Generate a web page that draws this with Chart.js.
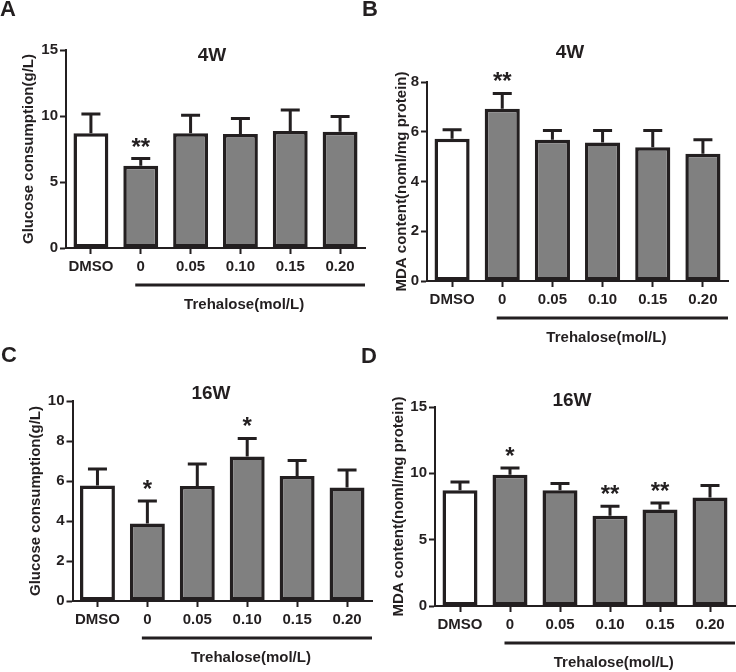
<!DOCTYPE html>
<html>
<head>
<meta charset="utf-8">
<script src="https://cdn.jsdelivr.net/npm/chart.js@4.4.1/dist/chart.umd.min.js"></script>
<style>
  body { margin: 0; background: #fff; }
  #wrap { position: relative; width: 736px; height: 672px; overflow: hidden; }
  #wrap canvas { position: absolute; left: 0; top: 0; }
  .letter { position: absolute; font: bold 22px "Liberation Sans", Arial, sans-serif; line-height: 22px; color: #231f20; }
</style>
</head>
<body>
<div id="wrap">
  <canvas id="chartA" width="736" height="672"></canvas>
  <canvas id="chartB" width="736" height="672"></canvas>
  <canvas id="chartC" width="736" height="672"></canvas>
  <canvas id="chartD" width="736" height="672"></canvas>
  <div class="letter" style="left:0px;top:-2px">A</div>
  <div class="letter" style="left:362px;top:-2px">B</div>
  <div class="letter" style="left:1px;top:344px">C</div>
  <div class="letter" style="left:361px;top:345px">D</div>
</div>
<script>
const categories = ["DMSO", "0", "0.05", "0.10", "0.15", "0.20"];
const barColors = ["#ffffff", "#808080", "#808080", "#808080", "#808080", "#808080"];

// A: glucose consumption, 4 weeks
const glucose4w = [8.70, 6.23, 8.70, 8.64, 8.86, 8.81];
const glucose4wErr = [1.46, 0.55, 1.36, 1.18, 1.59, 1.16];
const glucose4wStars = ["", "**", "", "", "", ""];
const glucose4wTicks = [0, 5, 10, 15];

// B: MDA content, 4 weeks
const mda4w = [5.72, 6.92, 5.68, 5.57, 5.38, 5.12];
const mda4wErr = [0.36, 0.62, 0.37, 0.48, 0.67, 0.56];
const mda4wStars = ["", "**", "", "", "", ""];
const mda4wTicks = [0, 2, 4, 6, 8];

// C: glucose consumption, 16 weeks
const glucose16w = [5.77, 3.88, 5.75, 7.22, 6.25, 5.68];
const glucose16wErr = [0.83, 1.12, 1.10, 0.91, 0.77, 0.87];
const glucose16wStars = ["", "*", "", "*", "", ""];
const glucose16wTicks = [0, 2, 4, 6, 8, 10];

// D: MDA content, 16 weeks
const mda16w = [8.73, 9.90, 8.73, 6.80, 7.27, 8.18];
const mda16wErr = [0.62, 0.50, 0.50, 0.72, 0.50, 0.90];
const mda16wStars = ["", "*", "", "**", "**", ""];
const mda16wTicks = [0, 5, 10, 15];

const ink = "#231f20";
const family = '"Liberation Sans", Arial, sans-serif';
const labelSize = 15;

// error bars, significance stars, panel title and the Trehalose bracket
const extras = {
  id: "extras",
  afterDatasetsDraw(chart, args, opts) {
    const {ctx, chartArea} = chart;
    const x = chart.scales.x;
    const y = chart.scales.y;
    const values = chart.data.datasets[0].data;
    ctx.save();
    ctx.strokeStyle = ink;
    ctx.fillStyle = ink;
    ctx.lineWidth = 3;
    ctx.textAlign = "center";
    chart.getDatasetMeta(0).data.forEach((bar, i) => {
      const top = y.getPixelForValue(values[i] + opts.errors[i]);
      ctx.beginPath();
      ctx.moveTo(bar.x, bar.y);
      ctx.lineTo(bar.x, top);
      ctx.moveTo(bar.x - 9.5, top);
      ctx.lineTo(bar.x + 9.5, top);
      ctx.stroke();
      if (opts.stars[i]) {
        ctx.font = "bold 24px " + family;
        ctx.textBaseline = "alphabetic";
        ctx.fillText(opts.stars[i], bar.x, top - 4);
      }
    });

    ctx.font = "bold 19px " + family;
    ctx.textBaseline = "middle";
    ctx.fillText(opts.title, opts.titlePos[0], opts.titlePos[1]);

    const x0 = x.getPixelForValue(1) - 5.5;
    const x1 = chartArea.right;
    ctx.lineWidth = 3;
    ctx.beginPath();
    ctx.moveTo(x0, chartArea.bottom + 37);
    ctx.lineTo(x1, chartArea.bottom + 37);
    ctx.stroke();
    ctx.font = "bold " + labelSize + "px " + family;
    ctx.fillText("Trehalose(mol/L)", (x0 + x1) / 2 - 6, chartArea.bottom + 57);
    ctx.restore();
  }
};

const makePanel = (id, p) => {
  const axisW = p.area.left - (p.titleX - labelSize * 0.6);
  const font = {family, size: labelSize, weight: "bold"};
  new Chart(document.getElementById(id), {
    type: "bar",
    data: {
      labels: categories,
      datasets: [{
        data: p.values,
        backgroundColor: barColors,
        borderColor: ink,
        borderWidth: 3.5,
        borderSkipped: false,
        barPercentage: 0.7,
        categoryPercentage: 1
      }]
    },
    options: {
      responsive: false,
      animation: false,
      events: [],
      layout: {
        padding: {
          left: p.area.left - axisW,
          right: 736 - p.area.right,
          top: p.area.top,
          bottom: 672 - p.area.bottom - 40
        }
      },
      scales: {
        x: {
          grid: {offset: false, drawOnChartArea: false, tickLength: 6, tickWidth: 2, tickColor: ink},
          border: {color: ink, width: 2},
          ticks: {color: ink, font, padding: 4, maxRotation: 0},
          afterFit: (s) => { s.height = 40; }
        },
        y: {
          min: p.ticks[0],
          max: p.ticks[p.ticks.length - 1],
          ticks: {stepSize: p.ticks[1] - p.ticks[0], color: ink, font, padding: 2},
          grid: {drawOnChartArea: false, tickLength: 6, tickWidth: 2, tickColor: ink},
          border: {color: ink, width: 2},
          title: {display: true, text: p.yTitle, color: ink, font, padding: 0},
          afterFit: (s) => { s.width = axisW; }
        }
      },
      plugins: {
        legend: {display: false},
        tooltip: {enabled: false},
        extras: {errors: p.errors, stars: p.stars, title: p.title, titlePos: p.titlePos}
      }
    },
    plugins: [extras]
  });
};

makePanel("chartA", {
  values: glucose4w, errors: glucose4wErr, stars: glucose4wStars, ticks: glucose4wTicks,
  yTitle: "Glucose consumption(g/L)", title: "4W", titlePos: [212, 56],
  area: {left: 66, right: 365, top: 50, bottom: 248}, titleX: 29
});
makePanel("chartB", {
  values: mda4w, errors: mda4wErr, stars: mda4wStars, ticks: mda4wTicks,
  yTitle: "MDA content(noml/mg protein)", title: "4W", titlePos: [570, 53],
  area: {left: 427, right: 728, top: 82, bottom: 281}, titleX: 402
});
makePanel("chartC", {
  values: glucose16w, errors: glucose16wErr, stars: glucose16wStars, ticks: glucose16wTicks,
  yTitle: "Glucose consumption(g/L)", title: "16W", titlePos: [211, 394],
  area: {left: 72.5, right: 372, top: 401, bottom: 601}, titleX: 36
});
makePanel("chartD", {
  values: mda16w, errors: mda16wErr, stars: mda16wStars, ticks: mda16wTicks,
  yTitle: "MDA content(noml/mg protein)", title: "16W", titlePos: [572, 401],
  area: {left: 435, right: 735, top: 407, bottom: 606}, titleX: 399
});
</script>
</body>
</html>
